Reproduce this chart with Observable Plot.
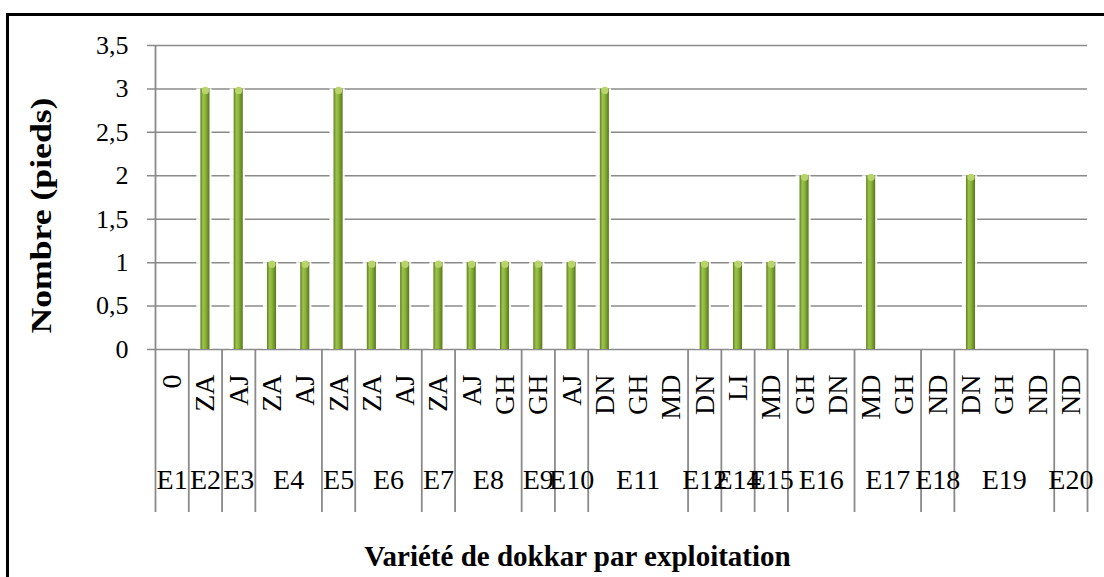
<!DOCTYPE html>
<html>
<head>
<meta charset="utf-8">
<script src="https://cdn.jsdelivr.net/npm/d3@7"></script>
<script src="https://cdn.jsdelivr.net/npm/@observablehq/plot@0.6"></script>
<style>
  html, body { margin: 0; padding: 0; background: #fff; overflow: hidden; }
  #wrap { position: relative; width: 1104px; height: 577px; overflow: hidden; background: #fff; }
  #frame { position: absolute; left: 6px; top: 13px; width: 1200px; height: 700px; border: 3px solid #000; box-sizing: border-box; }
  #chart { position: absolute; left: 0; top: 0; }
</style>
</head>
<body>
<div id="wrap"><div id="frame"></div><div id="chart"></div></div>
<script>
// ---- data ----
const varieties = ["0","ZA","AJ","ZA","AJ","ZA","ZA","AJ","ZA","AJ","GH","GH","AJ","DN","GH","MD","DN","LI","MD","GH","DN","MD","GH","ND","DN","GH","ND","ND"];
const farms = ["E1","E2","E3","E4","E4","E5","E6","E6","E7","E8","E8","E9","E10","E11","E11","E11","E12","E14","E15","E16","E16","E17","E17","E18","E19","E19","E19","E20"];
const counts = [0,3,3,1,1,3,1,1,1,1,1,1,1,3,0,0,1,1,1,2,0,2,0,0,2,0,0,0];
const yTicks = [0, 0.5, 1, 1.5, 2, 2.5, 3, 3.5];
const yTitle = "Nombre (pieds)";
const xTitle = "Variété de dokkar par exploitation";

// ---- derived tables ----
const rows = varieties.map((v, i) => ({i, variety: v, farm: farms[i], value: counts[i]}));
const groups = [];
rows.forEach(r => {
  const g = groups[groups.length - 1];
  if (g && g.farm === r.farm) g.end = r.i + 1;
  else groups.push({farm: r.farm, start: r.i, end: r.i + 1});
});
const bounds = [0, ...groups.map(g => g.end)];
const serif = "'Liberation Serif', 'Times New Roman', serif";
const grid = "#8a8a8a";
const plotTop = 45, plotBottom = 349; // y-range of the value area (pixels)

const chart = Plot.plot({
  width: 1104,
  height: 577,
  marginLeft: 155,
  marginRight: 17,
  marginTop: plotTop,
  marginBottom: 65,
  x: {domain: [0, varieties.length], axis: null},
  y: {domain: [0, 3.5], range: [plotBottom, plotTop], ticks: yTicks, tickFormat: d => String(d).replace(".", ","), tickSize: 0, tickPadding: 27, label: null},
  style: {fontFamily: serif, fontSize: "26px", color: "#000", background: "transparent", overflow: "visible"},
  marks: [
    Plot.ruleY(yTicks, {stroke: grid, strokeWidth: 1.5, insetLeft: -8}),
    // category-table separators below the axis
    Plot.ruleX(bounds, {x: d => d, stroke: grid, strokeWidth: 1.8, insetTop: plotBottom - plotTop}),
    // value axis line
    Plot.ruleX([0], {x: d => d, y1: 0, y2: 3.5, stroke: grid, strokeWidth: 1.8}),
    Plot.rectY(rows.filter(r => r.value > 0), {x1: "i", x2: r => r.i + 1, y: "value", fill: "white", fillOpacity: 0.9, insetLeft: 8, insetRight: 10}),
    Plot.rectY(rows, {x1: "i", x2: r => r.i + 1, y: "value", fill: "url(#barGrad)", insetLeft: 12.1, insetRight: 12.1}),
    Plot.dot(rows.filter(r => r.value > 0), {x: r => r.i + 0.5, y: "value", r: 3.6, fill: "#b9d46a", stroke: "none", dy: 1.5}),
    Plot.text(rows, {x: r => r.i + 0.5, text: "variety", frameAnchor: "bottom", dy: -138, rotate: -90, textAnchor: "end", lineAnchor: "middle", fontSize: 28, fontFamily: serif, fill: "#000"}),
    Plot.text(groups, {x: g => (g.start + g.end) / 2, text: "farm", frameAnchor: "bottom", dy: -32, lineAnchor: "middle", fontSize: 28, fontFamily: serif, fill: "#000"}),
    Plot.text([yTitle], {text: d => d, frameAnchor: "top-left", dx: -114, dy: 170, rotate: -90, textAnchor: "middle", lineAnchor: "middle", fontSize: 30, fontWeight: "bold", fontFamily: serif, fill: "#000"}),
    Plot.text([xTitle], {text: d => d, frameAnchor: "bottom", dx: -44, dy: 44, textAnchor: "middle", lineAnchor: "middle", fontSize: 29, fontWeight: "bold", fontFamily: serif, fill: "#000"})
  ]
});

// gradient definition for the cylinder-like bars
const ns = "http://www.w3.org/2000/svg";
const defs = document.createElementNS(ns, "defs");
const lg = document.createElementNS(ns, "linearGradient");
lg.setAttribute("id", "barGrad");
lg.setAttribute("x1", "0"); lg.setAttribute("x2", "1"); lg.setAttribute("y1", "0"); lg.setAttribute("y2", "0");
[["0", "#5f7f1f"], ["0.3", "#9cc34b"], ["0.55", "#8cb43c"], ["1", "#56761a"]].forEach(([o, c]) => {
  const s = document.createElementNS(ns, "stop");
  s.setAttribute("offset", o); s.setAttribute("stop-color", c);
  lg.appendChild(s);
});
defs.appendChild(lg);
chart.insertBefore(defs, chart.firstChild);

// the reference's y title is drawn slightly stretched along its length
chart.querySelectorAll("text").forEach(t => {
  if (t.textContent === yTitle) {
    t.setAttribute("textLength", "236");
    t.setAttribute("lengthAdjust", "spacingAndGlyphs");
  }
});

document.getElementById("chart").appendChild(chart);
</script>
</body>
</html>
